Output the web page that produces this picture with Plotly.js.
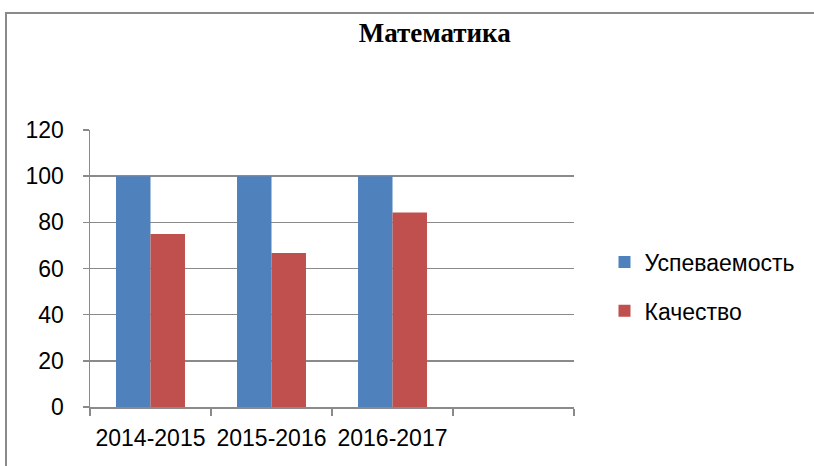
<!DOCTYPE html>
<html><head><meta charset="utf-8">
<script src="https://cdn.plot.ly/plotly-3.0.1.min.js"></script>
<style>
html,body{margin:0;padding:0;background:#fff;}
#wrap{position:relative;width:814px;height:466px;}
#chart{position:absolute;left:0;top:0;width:814px;height:466px;}
#frame{position:absolute;left:5px;top:12px;width:820px;height:470px;border-top:2px solid #8a8a8a;border-left:2px solid #8a8a8a;pointer-events:none;}
</style></head>
<body>
<div id="wrap"><div id="chart"></div><div id="frame"></div></div>
<script>
const categories = ['2014-2015', '2015-2016', '2016-2017', ' '];
const seriesNames = ['Успеваемость', 'Качество'];
const uspevaemost = [100, 100, 100];
const kachestvo = [75, 66.7, 84.3];
const yTicks = [0, 20, 40, 60, 80, 100, 120];

const traces = [
  {type:'bar', name:seriesNames[0], x:categories.slice(0,3), y:uspevaemost,
   marker:{color:'#4f81bd'}, legendgroup:'a'},
  {type:'bar', name:seriesNames[1], x:categories.slice(0,3), y:kachestvo,
   marker:{color:'#c0504d'}, legendgroup:'b'}
];

const layout = {
  width:814, height:466,
  paper_bgcolor:'#fff', plot_bgcolor:'#fff',
  margin:{l:90, r:240, t:130, b:59},
  barmode:'group', bargap:0.43, bargroupgap:0,
  font:{family:'Liberation Sans, Arial, sans-serif', size:23, color:'#000'},
  title:{text:'<b>Математика</b>', font:{family:'Liberation Serif, Times New Roman, serif', size:27, color:'#000'},
         x:0.534, xref:'container', xanchor:'center', y:0.93, yref:'container', yanchor:'middle'},
  xaxis:{type:'category', categoryorder:'array', categoryarray:categories, range:[-0.5,3.5],
         tickson:'boundaries', ticks:'outside', ticklen:7, tickcolor:'#8a8a8a', tickwidth:1.5,
         showline:true, linecolor:'#8a8a8a', linewidth:1.5, showgrid:false, fixedrange:true,
         ticklabelstandoff:10, tickfont:{size:23}},
  yaxis:{range:[0,120], tickvals:yTicks, ticks:'outside', ticklen:6, tickcolor:'#8a8a8a', tickwidth:1.5,
         showline:true, linecolor:'#8a8a8a', linewidth:1.5, showgrid:true, gridcolor:'#8a8a8a', gridwidth:1.5,
         zeroline:false, ticklabelstandoff:14, tickfont:{size:23}},
  showlegend:true,
  legend:{x:1.063, y:0.435, xanchor:'left', yanchor:'middle', font:{size:23}, traceorder:'grouped', tracegroupgap:16,
          bgcolor:'rgba(0,0,0,0)'}
};
Plotly.newPlot('chart', traces, layout, {displayModeBar:false, staticPlot:true});
</script>
</body></html>
